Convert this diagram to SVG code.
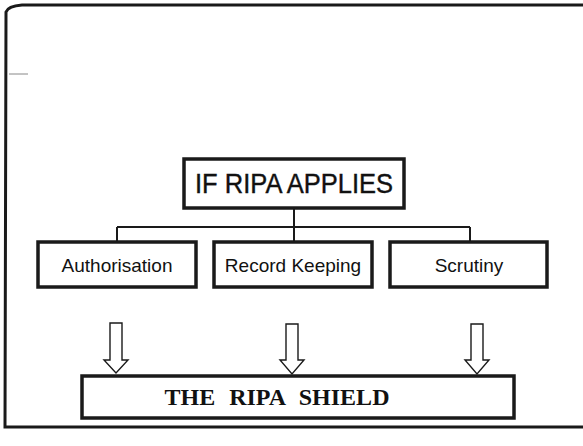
<svg xmlns="http://www.w3.org/2000/svg" width="583" height="446" viewBox="0 0 583 446">
<style>
.box{fill:#fff;stroke:#1a1a1a;stroke-width:3.5}
.lbl{font-family:"Liberation Sans",Arial,sans-serif;fill:#111;text-anchor:middle}
.conn{stroke:#1a1a1a;stroke-width:2;fill:none}
.arrow{fill:#fff;stroke:#1a1a1a;stroke-width:1.4}
.frame{stroke:#1a1a1a;stroke-width:3;fill:none}
</style>
<rect width="583" height="446" fill="#fff"/>
<g id="frame">
<path class="frame" d="M583,5 L22,5 Q8,6 6,12 L5,427 L583,427"/>
<line x1="9" y1="74" x2="28" y2="74" stroke="#888" stroke-width="1"/>
</g>
<g id="connectors">
<line class="conn" x1="294" y1="208" x2="294" y2="242"/>
<line class="conn" x1="117" y1="227" x2="470" y2="227"/>
<line class="conn" x1="117" y1="227" x2="117" y2="242"/>
<line class="conn" x1="470" y1="227" x2="470" y2="242"/>
<path class="arrow" d="M110,323 L122,323 L122,360 L128,360 L116,373 L104,360 L110,360 Z"/>
<path class="arrow" d="M286,324 L298,324 L298,360 L304,360 L292,374 L280,360 L286,360 Z"/>
<path class="arrow" d="M471,324 L483,324 L483,360 L489,360 L477,374 L465,360 L471,360 Z"/>
</g>
<g id="if-ripa-applies">
<rect class="box" x="184" y="159" width="220" height="49"/>
<text class="lbl" x="294" y="193" font-size="27" textLength="198" lengthAdjust="spacingAndGlyphs" stroke="#111" stroke-width="0.4">IF RIPA APPLIES</text>
</g>
<g id="authorisation">
<rect class="box" x="38" y="242" width="158" height="45"/>
<text class="lbl" x="117" y="272" font-size="19">Authorisation</text>
</g>
<g id="record-keeping">
<rect class="box" x="214" y="242" width="158" height="45"/>
<text class="lbl" x="293" y="272" font-size="19">Record Keeping</text>
</g>
<g id="scrutiny">
<rect class="box" x="390" y="242" width="157" height="45"/>
<text class="lbl" x="469" y="272" font-size="19">Scrutiny</text>
</g>
<g id="ripa-shield">
<rect class="box" x="82" y="376" width="432" height="42"/>
<text x="277" y="405" font-family="'Liberation Serif','Times New Roman',serif" font-weight="bold" font-size="24" word-spacing="8" text-anchor="middle" fill="#111">THE RIPA SHIELD</text>
</g>
</svg>
